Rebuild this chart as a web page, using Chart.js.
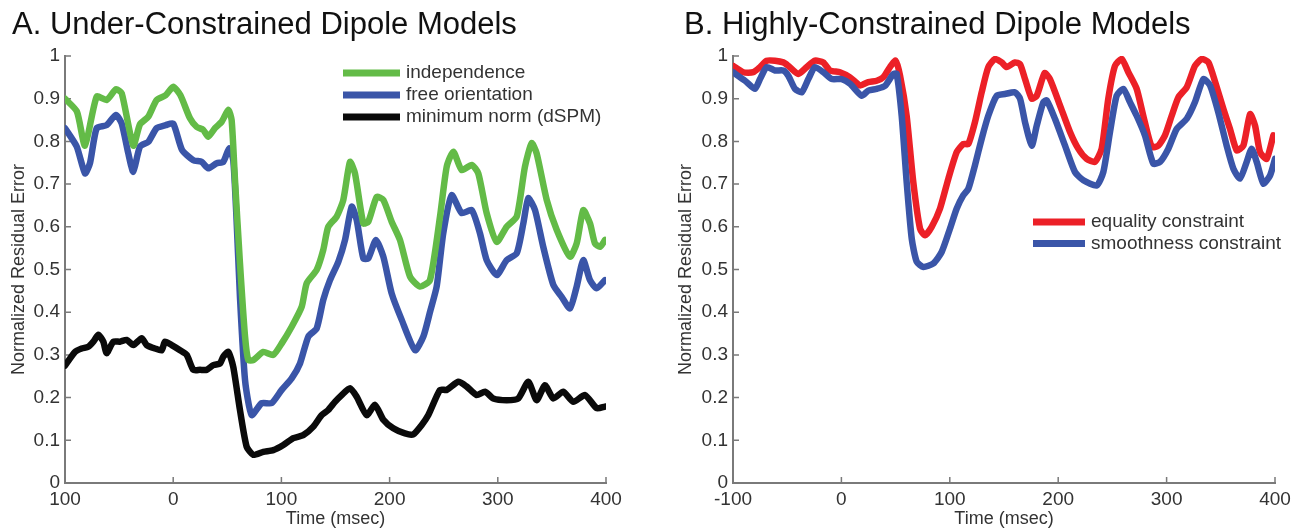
<!DOCTYPE html>
<html>
<head>
<meta charset="utf-8">
<script src="https://cdn.jsdelivr.net/npm/chart.js@4.4.0/dist/chart.umd.min.js"></script>
<style>
    body { margin: 0; background: #fff; }
    canvas { position: absolute; top: 0; }
</style>
</head>
<body>
<canvas id="under_constrained" width="640" height="530" style="left:0px"></canvas>
<canvas id="highly_constrained" width="651" height="530" style="left:650px"></canvas>
<script>

// residual error curves, time in msec
var timeIndependence = [-100, -89, -81.5, -70.7, -61.5, -52.9, -47.6, -36.9, -30.7, -23, -15.3, -7, 0, 6.7, 15.5, 21.7, 27.8, 32.4, 38.6, 44.8, 51, 54, 57.1, 61.7, 66.4, 69.4, 74, 83.3, 92.5, 100.3, 109.5, 118.8, 123.4, 132.6, 138.7, 143.3, 151.1, 157.2, 163.4, 168, 175.7, 180.3, 188.1, 194.2, 201.9, 209.6, 218.9, 228.1, 237.3, 246.6, 252.8, 258.9, 266.6, 275.9, 282, 289.7, 299, 308.2, 317.5, 325.1, 331.3, 335.9, 345.2, 354.4, 366.7, 372.9, 379, 385.2, 389.8, 394.5, 399.1];
var independence = [0.90, 0.87, 0.79, 0.905, 0.897, 0.922, 0.913, 0.79, 0.84, 0.858, 0.897, 0.908, 0.928, 0.908, 0.854, 0.834, 0.827, 0.811, 0.831, 0.846, 0.874, 0.85, 0.71, 0.515, 0.343, 0.288, 0.288, 0.307, 0.30, 0.327, 0.366, 0.413, 0.468, 0.499, 0.546, 0.60, 0.624, 0.663, 0.752, 0.725, 0.608, 0.612, 0.67, 0.663, 0.612, 0.569, 0.483, 0.46, 0.475, 0.624, 0.741, 0.776, 0.733, 0.745, 0.725, 0.632, 0.565, 0.60, 0.624, 0.741, 0.796, 0.772, 0.663, 0.593, 0.53, 0.561, 0.639, 0.608, 0.561, 0.553, 0.569];

var timeFreeOrientation = [-100, -89.2, -81.5, -76.9, -70.7, -61.5, -52.9, -47.6, -41.5, -36.9, -30.7, -23, -15.3, -7, 0, 8.2, 18.6, 26.3, 32.4, 40.2, 46.3, 51.8, 55.5, 58.5, 61.7, 66.4, 72.5, 81.8, 91, 100.3, 109.5, 117.2, 124.9, 132.6, 138.7, 144.9, 152.6, 158.8, 165, 169.6, 175.7, 180.3, 187.4, 194.2, 201.9, 211.2, 223.5, 231.2, 237.3, 243.5, 249.6, 257.4, 266.6, 275.9, 283.5, 289.7, 299, 308.2, 317.5, 323.6, 328.2, 334.4, 342, 351.3, 359, 366.7, 372.9, 379, 385.2, 391.4, 399.1];
var freeOrientation = [0.831, 0.788, 0.725, 0.749, 0.831, 0.838, 0.862, 0.842, 0.772, 0.729, 0.788, 0.799, 0.831, 0.838, 0.842, 0.78, 0.756, 0.752, 0.737, 0.749, 0.752, 0.784, 0.756, 0.62, 0.436, 0.241, 0.159, 0.187, 0.187, 0.218, 0.245, 0.28, 0.343, 0.362, 0.429, 0.475, 0.518, 0.569, 0.647, 0.616, 0.526, 0.526, 0.569, 0.53, 0.444, 0.382, 0.311, 0.343, 0.40, 0.46, 0.585, 0.674, 0.632, 0.639, 0.585, 0.522, 0.487, 0.522, 0.538, 0.608, 0.667, 0.639, 0.553, 0.464, 0.436, 0.409, 0.46, 0.522, 0.475, 0.456, 0.475];

var timeMinimumNorm = [-100, -90.8, -84.6, -78.5, -73.8, -69.2, -64.6, -61.5, -55.3, -49.2, -43, -36.9, -29.1, -24.5, -16.8, -10.6, -7.6, -1.4, 6.3, 12.5, 18.6, 24.8, 30.9, 37.1, 43.3, 46.3, 51, 55.5, 61.7, 67.9, 74, 83.3, 92.5, 101.8, 111, 120.2, 129.5, 137.2, 143.3, 149.5, 155.7, 163.4, 169.6, 178.8, 186.5, 194.2, 203.4, 214.2, 221.9, 229.7, 235.8, 246.6, 252.8, 263.5, 271.2, 280.4, 288.2, 295.8, 308.2, 318.9, 328.2, 335.9, 343.6, 351.3, 360.5, 369.8, 380.6, 391.4, 399.1];
var minimumNorm = [0.275, 0.307, 0.315, 0.319, 0.331, 0.347, 0.331, 0.304, 0.331, 0.331, 0.335, 0.323, 0.339, 0.323, 0.315, 0.311, 0.331, 0.323, 0.311, 0.30, 0.265, 0.265, 0.265, 0.276, 0.28, 0.296, 0.307, 0.272, 0.171, 0.085, 0.066, 0.073, 0.077, 0.089, 0.105, 0.112, 0.132, 0.159, 0.171, 0.19, 0.206, 0.222, 0.202, 0.159, 0.183, 0.148, 0.128, 0.116, 0.114, 0.136, 0.159, 0.218, 0.218, 0.237, 0.226, 0.206, 0.214, 0.198, 0.194, 0.198, 0.237, 0.194, 0.229, 0.198, 0.214, 0.19, 0.206, 0.175, 0.179];

var timeEquality = [-100, -90.5, -81.3, -75.1, -68.9, -61.3, -53.6, -49, -39.7, -32, -24.4, -16.7, -10.5, -1.3, 8, 17.2, 24.8, 32.6, 38.7, 44.8, 50, 54.1, 60.2, 66.3, 72.5, 77.1, 83.3, 91, 98.7, 106.4, 112.5, 117.1, 123.2, 129.4, 135.5, 141.7, 147.9, 152.5, 160.1, 164.8, 169.4, 175.6, 180.2, 187.5, 192.4, 201.7, 210.9, 218.5, 226.3, 233.9, 240.1, 246.2, 252.4, 258.6, 264.7, 272.4, 278.5, 286.3, 292.4, 298.5, 304.7, 310.8, 318.6, 326.2, 332.4, 338.6, 344.8, 352.4, 358.5, 364.7, 370.8, 377, 381.6, 386.2, 392.3, 398.5];
var equality = [0.977, 0.962, 0.962, 0.974, 0.989, 0.989, 0.985, 0.977, 0.958, 0.974, 0.989, 0.985, 0.966, 0.962, 0.95, 0.931, 0.939, 0.942, 0.95, 0.974, 0.989, 0.954, 0.86, 0.705, 0.596, 0.58, 0.60, 0.643, 0.713, 0.775, 0.794, 0.794, 0.845, 0.915, 0.974, 0.993, 0.985, 0.974, 0.985, 0.981, 0.946, 0.90, 0.907, 0.96, 0.946, 0.884, 0.822, 0.783, 0.759, 0.752, 0.783, 0.90, 0.977, 0.993, 0.962, 0.923, 0.86, 0.787, 0.79, 0.814, 0.86, 0.903, 0.927, 0.977, 0.993, 0.985, 0.939, 0.876, 0.829, 0.779, 0.79, 0.864, 0.837, 0.775, 0.759, 0.814];

var timeSmoothness = [-100, -88.9, -79.7, -75.1, -68.9, -61.3, -53.6, -49, -42.8, -36.6, -30.5, -24.4, -16.7, -8.9, 0.3, 8, 18.7, 24.8, 32.6, 40.2, 47.9, 51, 55.6, 60.2, 64.9, 69.5, 75.6, 84.8, 92.5, 100.2, 106.4, 112.5, 117.1, 123.2, 129.4, 135.5, 143.3, 150.9, 160.1, 164.8, 169.4, 175.6, 180.2, 186.3, 189.4, 197, 206.3, 215.5, 223.2, 235.5, 241.6, 247.8, 253.9, 260.1, 266.2, 272.4, 280, 287.7, 293.9, 301.6, 309.3, 318.6, 326.2, 333.9, 340.1, 347.7, 355.4, 361.6, 367.7, 373.9, 378.5, 383.1, 389.3, 395.4, 400];
var smoothness = [0.962, 0.942, 0.923, 0.946, 0.974, 0.966, 0.966, 0.954, 0.923, 0.915, 0.946, 0.974, 0.962, 0.946, 0.946, 0.935, 0.907, 0.919, 0.923, 0.93, 0.958, 0.958, 0.86, 0.705, 0.572, 0.518, 0.506, 0.514, 0.541, 0.596, 0.643, 0.674, 0.689, 0.744, 0.806, 0.86, 0.907, 0.911, 0.915, 0.90, 0.845, 0.79, 0.837, 0.892, 0.896, 0.853, 0.79, 0.728, 0.709, 0.697, 0.728, 0.822, 0.907, 0.923, 0.892, 0.86, 0.814, 0.748, 0.752, 0.783, 0.829, 0.853, 0.892, 0.946, 0.931, 0.868, 0.79, 0.736, 0.713, 0.752, 0.783, 0.752, 0.701, 0.72, 0.759];

var underXTicks = ['100', '0', '100', '200', '300', '400'];
var highlyXTicks = ['-100', '0', '100', '200', '300', '400'];
var yTicks = ['0', '0.1', '0.2', '0.3', '0.4', '0.5', '0.6', '0.7', '0.8', '0.9', '1'];

var fontFamily = '"Liberation Sans", Arial, sans-serif';
var textColor = '#333';
var axisColor = '#7a7a7a';

var toPoints = function(times, values) {
    var pts = [];
    for (let i = 0; i < times.length; i++) {
        pts.push({ x: times[i], y: values[i] });
    }
    return pts;
};

var makeLine = function(label, times, values, color, order) {
    return {
        label: label,
        data: toPoints(times, values),
        borderColor: color,
        backgroundColor: color,
        borderWidth: 6.5,
        borderJoinStyle: 'round',
        borderCapStyle: 'round',
        pointRadius: 0,
        tension: 0.2,
        order: order
    };
};

// small inward tick marks on both axes
var insideTicks = {
    id: 'insideTicks',
    beforeDatasetsDraw: function(chart) {
        var ctx = chart.ctx;
        var area = chart.chartArea;
        var x = chart.scales.x;
        var y = chart.scales.y;
        ctx.save();
        ctx.strokeStyle = axisColor;
        ctx.lineWidth = 1.5;
        ctx.beginPath();
        x.ticks.forEach(function(t) {
            var px = x.getPixelForValue(t.value);
            ctx.moveTo(px, area.bottom);
            ctx.lineTo(px, area.bottom - 6);
        });
        y.ticks.forEach(function(t) {
            var py = y.getPixelForValue(t.value);
            ctx.moveTo(area.left, py);
            ctx.lineTo(area.left + 6, py);
        });
        ctx.stroke();
        ctx.restore();
    }
};

// legend with long line swatches stacked in a column
var lineLegend = {
    id: 'lineLegend',
    afterDraw: function(chart, args, opts) {
        var ctx = chart.ctx;
        ctx.save();
        ctx.font = '19px ' + fontFamily;
        ctx.textBaseline = 'middle';
        ctx.fillStyle = textColor;
        chart.data.datasets.forEach(function(ds, i) {
            var y = opts.top + i * opts.rowHeight;
            ctx.strokeStyle = ds.borderColor;
            ctx.lineWidth = 7;
            ctx.beginPath();
            ctx.moveTo(opts.left, y);
            ctx.lineTo(opts.left + opts.lineLength, y);
            ctx.stroke();
            ctx.fillText(ds.label, opts.left + opts.lineLength + 6, y);
        });
        ctx.restore();
    }
};

var makePanel = function(canvasId, titleText, datasets, xLabels, layout) {
    return new Chart(document.getElementById(canvasId), {
        type: 'line',
        data: { datasets: datasets },
        plugins: [insideTicks, lineLegend],
        options: {
            responsive: false,
            animation: false,
            layout: { padding: { left: layout.padLeft, right: layout.padRight, top: 0, bottom: 0 } },
            plugins: {
                legend: { display: false },
                tooltip: { enabled: false },
                title: {
                    display: true,
                    text: titleText,
                    align: 'start',
                    color: '#111',
                    font: { family: fontFamily, size: 31, weight: 'normal' },
                    padding: { top: 6.5, bottom: 12.3 }
                },
                lineLegend: layout.legend
            },
            scales: {
                x: {
                    type: 'linear',
                    min: -100,
                    max: 400,
                    afterFit: function(scale) { scale.height = 47; },
                    grid: { display: false, drawTicks: false },
                    border: { display: true, color: axisColor, width: 2 },
                    ticks: {
                        stepSize: 100,
                        padding: 5,
                        autoSkip: false,
                        maxRotation: 0,
                        color: textColor,
                        font: { family: fontFamily, size: 19 },
                        callback: function(v, i) { return xLabels[i]; }
                    },
                    title: {
                        display: true,
                        text: 'Time (msec)',
                        color: textColor,
                        font: { family: fontFamily, size: 18 },
                        padding: { top: 0, bottom: 0 }
                    }
                },
                y: {
                    min: 0,
                    max: 1,
                    afterFit: function(scale) { scale.width = layout.yWidth; },
                    grid: { display: false, drawTicks: false },
                    border: { display: true, color: axisColor, width: 2 },
                    ticks: {
                        stepSize: 0.1,
                        padding: 5,
                        color: textColor,
                        font: { family: fontFamily, size: 19 },
                        callback: function(v, i) { return yTicks[i]; }
                    },
                    title: {
                        display: true,
                        text: 'Normalized Residual Error',
                        color: textColor,
                        font: { family: fontFamily, size: 18 },
                        padding: { top: layout.yTitleShift, bottom: 0 }
                    }
                }
            }
        }
    });
};

makePanel('under_constrained', 'A. Under-Constrained Dipole Models', [
    makeLine('independence', timeIndependence, independence, '#63bb47', 0),
    makeLine('free orientation', timeFreeOrientation, freeOrientation, '#3a55a8', 1),
    makeLine('minimum norm (dSPM)', timeMinimumNorm, minimumNorm, '#0a0a0a', 2)
], underXTicks, {
    padLeft: 12, padRight: 34, yWidth: 53, yTitleShift: -4,
    legend: { left: 343, top: 73, rowHeight: 22, lineLength: 57 }
});

makePanel('highly_constrained', 'B. Highly-Constrained Dipole Models', [
    makeLine('equality constraint', timeEquality, equality, '#ec2027', 1),
    makeLine('smoothness constraint', timeSmoothness, smoothness, '#3a55a8', 0)
], highlyXTicks, {
    padLeft: 34, padRight: 26, yWidth: 49, yTitleShift: -9,
    legend: { left: 383, top: 222, rowHeight: 21.5, lineLength: 52 }
});

</script>
</body>
</html>
